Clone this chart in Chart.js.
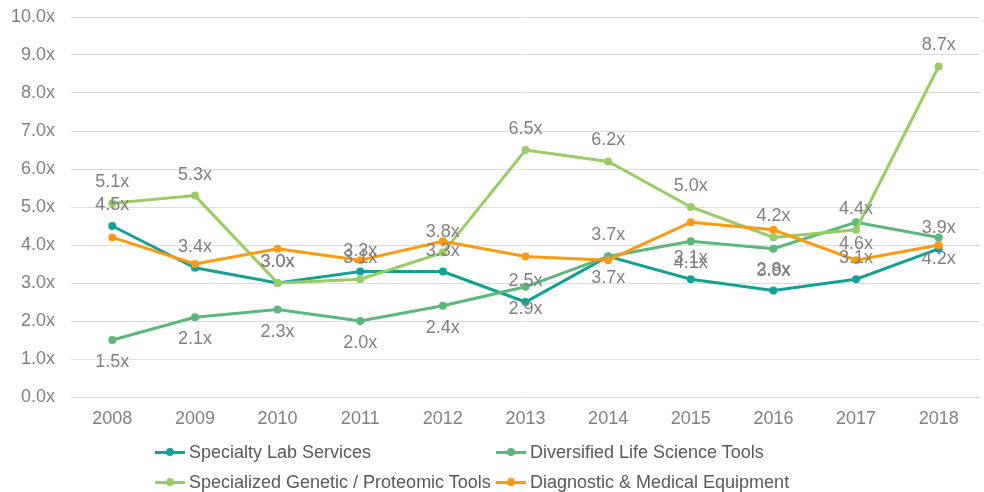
<!DOCTYPE html>
<html>
<head>
<meta charset="utf-8">
<script src="https://cdn.jsdelivr.net/npm/chart.js@4.4.1/dist/chart.umd.min.js"></script>
<style>
  html, body { margin: 0; padding: 0; background: #fff; }
  #wrap { position: relative; width: 984px; height: 492px; }
  #legend { position: absolute; left: 0; top: 0; width: 984px; height: 492px; pointer-events: none;
            font-family: "Liberation Sans", Arial, sans-serif; font-size: 18px; color: #595959; }
  .item { position: absolute; display: flex; align-items: center; white-space: nowrap; height: 24px; }
  .mark { position: relative; width: 30px; height: 3px; margin-right: 4px; }
  .mark i { position: absolute; left: 11px; top: -2.5px; width: 8px; height: 8px; border-radius: 50%; }
</style>
</head>
<body>
<div id="wrap">
  <canvas id="chart" width="984" height="492"></canvas>
  <div id="legend"></div>
</div>
<script>
// Данные графика
const years = ['2008', '2009', '2010', '2011', '2012', '2013', '2014', '2015', '2016', '2017', '2018'];
const specialtyLab = [4.5, 3.4, 3.0, 3.3, 3.3, 2.5, 3.7, 3.1, 2.8, 3.1, 3.9];
const diversifiedTools = [1.5, 2.1, 2.3, 2.0, 2.4, 2.9, 3.7, 4.1, 3.9, 4.6, 4.2];
const specializedGenetic = [5.1, 5.3, 3.0, 3.1, 3.8, 6.5, 6.2, 5.0, 4.2, 4.4, 8.7];
const diagnosticEquipment = [4.2, 3.5, 3.9, 3.6, 4.1, 3.7, 3.6, 4.6, 4.4, 3.6, 4.0];
const seriesNames = ['Specialty Lab Services', 'Diversified Life Science Tools',
                     'Specialized Genetic / Proteomic Tools', 'Diagnostic & Medical Equipment'];

const FONT = '"Liberation Sans", Arial, sans-serif';
const colors = ['#13a197', '#5cb879', '#99cc66', '#fd9a12'];

// Подписи значений (без внешнего плагина)
const valueLabels = {
  id: 'valueLabels',
  afterDatasetsDraw(chart) {
    const ctx = chart.ctx;
    ctx.save();
    ctx.font = '18px ' + FONT;
    ctx.fillStyle = '#808080';
    ctx.textAlign = 'center';
    ctx.textBaseline = 'middle';
    chart.data.datasets.forEach((ds, i) => {
      if (!ds.labelSide) return;
      const meta = chart.getDatasetMeta(i);
      meta.data.forEach((pt, j) => {
        const dy = ds.labelSide === 'above' ? -21 : 22;
        ctx.fillText(ds.data[j].toFixed(1) + 'x', pt.x, pt.y + dy);
      });
    });
    ctx.restore();
  }
};

function makeSet(i, data, side, order) {
  return {
    label: seriesNames[i],
    data: data,
    borderColor: colors[i],
    backgroundColor: colors[i],
    pointBackgroundColor: colors[i],
    pointBorderWidth: 0,
    pointRadius: 4,
    borderWidth: 3,
    tension: 0,
    labelSide: side,
    order: order
  };
}

// Убираем автоматические отступы осей
function zeroPad(scale) {
  scale.paddingTop = 0;
  scale.paddingBottom = 0;
  scale.paddingLeft = 0;
  scale.paddingRight = 0;
}

new Chart(document.getElementById('chart'), {
  type: 'line',
  data: {
    labels: years,
    datasets: [
      makeSet(0, specialtyLab, 'above', 4),
      makeSet(1, diversifiedTools, 'below', 3),
      makeSet(2, specializedGenetic, 'above', 2),
      makeSet(3, diagnosticEquipment, null, 1)
    ]
  },
  options: {
    responsive: false,
    animation: false,
    layout: { padding: { top: 17, bottom: 63, left: 0, right: -3 } },
    plugins: { legend: { display: false }, tooltip: { enabled: false } },
    scales: {
      x: {
        offset: true,
        grid: { display: false, drawTicks: false },
        border: { display: false },
        ticks: { color: '#808080', font: { family: FONT, size: 18 }, padding: 11 },
        afterFit(scale) { scale.height = 32; zeroPad(scale); }
      },
      y: {
        min: 0,
        max: 10,
        ticks: {
          stepSize: 1,
          color: '#808080',
          font: { family: FONT, size: 18 },
          padding: 16,
          callback: v => v.toFixed(1) + 'x'
        },
        grid: { color: '#dcdcdc', lineWidth: 1, drawTicks: false },
        border: { display: false },
        afterFit(scale) { scale.width = 71; zeroPad(scale); }
      }
    }
  },
  plugins: [valueLabels]
});

// Легенда в две колонки
const legendPos = [[155, 440], [496, 440], [155, 470], [496, 470]];
const legend = document.getElementById('legend');
seriesNames.forEach((name, i) => {
  const item = document.createElement('div');
  item.className = 'item';
  item.style.left = legendPos[i][0] + 'px';
  item.style.top = legendPos[i][1] + 'px';
  item.innerHTML = `<span class="mark" style="background:${colors[i]}"><i style="background:${colors[i]}"></i></span><span>${name}</span>`;
  legend.appendChild(item);
});
</script>
</body>
</html>
